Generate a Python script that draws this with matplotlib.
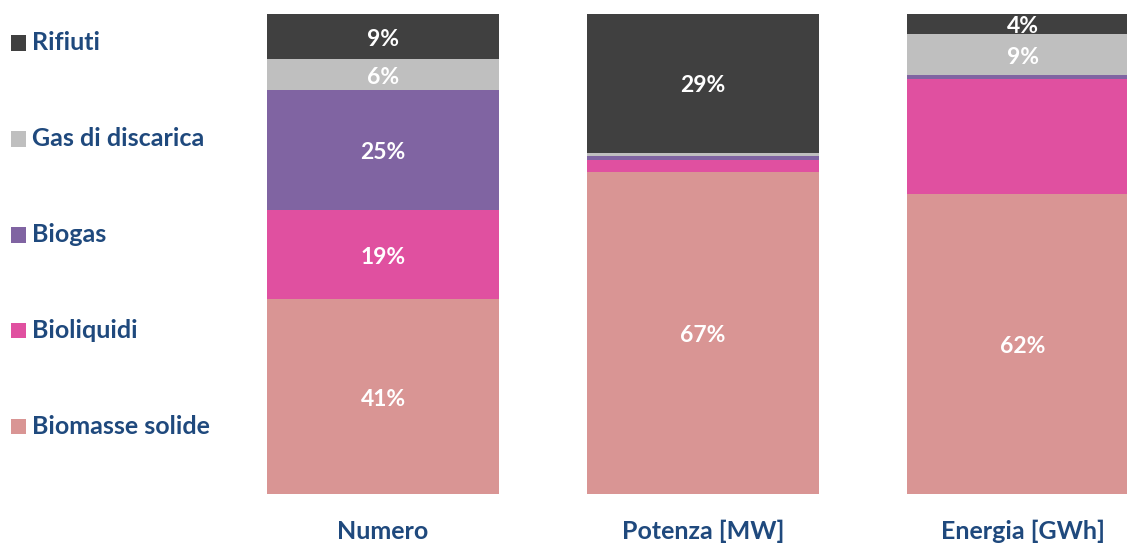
import matplotlib
matplotlib.use("Agg")
import matplotlib.pyplot as plt
import numpy as np
from matplotlib.patches import Rectangle

plt.rcParams['font.family'] = ['Lato', 'DejaVu Sans']

categories = ['Numero', 'Potenza [MW]', 'Energia [GWh]']
sources = ['Biomasse solide', 'Bioliquidi', 'Biogas', 'Gas di discarica', 'Rifiuti']
colors = ['#D99594', '#E050A0', '#8064A2', '#BFBFBF', '#404040']

# quote percentuali (stimate dal grafico)
biomasse = [40.6, 67.1, 62.4]
bioliquidi = [18.6, 2.4, 24.0]
biogas = [24.9, 0.8, 0.8]
gas_discarica = [6.4, 0.7, 8.6]
rifiuti = [9.5, 29.0, 4.2]

# etichette mostrate (vuoto = nessuna etichetta)
lab_biomasse = ['41%', '67%', '62%']
lab_bioliquidi = ['19%', '', '']
lab_biogas = ['25%', '', '']
lab_gas = ['6%', '', '9%']
lab_rifiuti = ['9%', '29%', '4%']

series = [biomasse, bioliquidi, biogas, gas_discarica, rifiuti]
labels = [lab_biomasse, lab_bioliquidi, lab_biogas, lab_gas, lab_rifiuti]

blue = '#1F497D'
W, H = 1127, 543
fig = plt.figure(figsize=(W / 100, H / 100), dpi=100)

# asse: centro barre a 383 px, passo 320 px
x = np.arange(len(categories))
x0, step = 383, 320
ax = fig.add_axes([0, (H - 494) / H, 1, (494 - 13.5) / H])
ax.set_xlim((0 - x0) / step, (W - x0) / step)
ax.set_ylim(0, 100)

bottom = np.zeros(len(categories))
for vals, labs, col in zip(series, labels, colors):
    vals = np.array(vals)
    ax.bar(x, vals, bottom=bottom, width=0.725, color=col, linewidth=0)
    for xi, b, v, lab in zip(x, bottom, vals, labs):
        if lab:
            ax.annotate(lab, (xi, b + v / 2), xytext=(0, -2),
                        textcoords='offset points', ha='center', va='center',
                        color='white', fontsize=16.5, fontweight='bold')
    bottom += vals

ax.set_xticks(x)
ax.set_xticklabels(categories, color=blue, fontsize=18, fontweight='bold')
ax.tick_params(axis='x', length=0, pad=18.5)
ax.set_yticks([])
for s in ax.spines.values():
    s.set_visible(False)

# legenda manuale
leg_y = [426, 330, 235, 139, 43]
for yy, name, col in zip(leg_y, sources, colors):
    fig.patches.append(Rectangle((11 / W, (H - yy - 7.5) / H), 15 / W, 15 / H,
                                 transform=fig.transFigure, facecolor=col,
                                 edgecolor='none'))
    fig.text(32 / W, (H - yy) / H, name, color=blue, fontsize=18,
             fontweight='bold', va='center', ha='left')

fig.savefig('out.png', dpi=100)
